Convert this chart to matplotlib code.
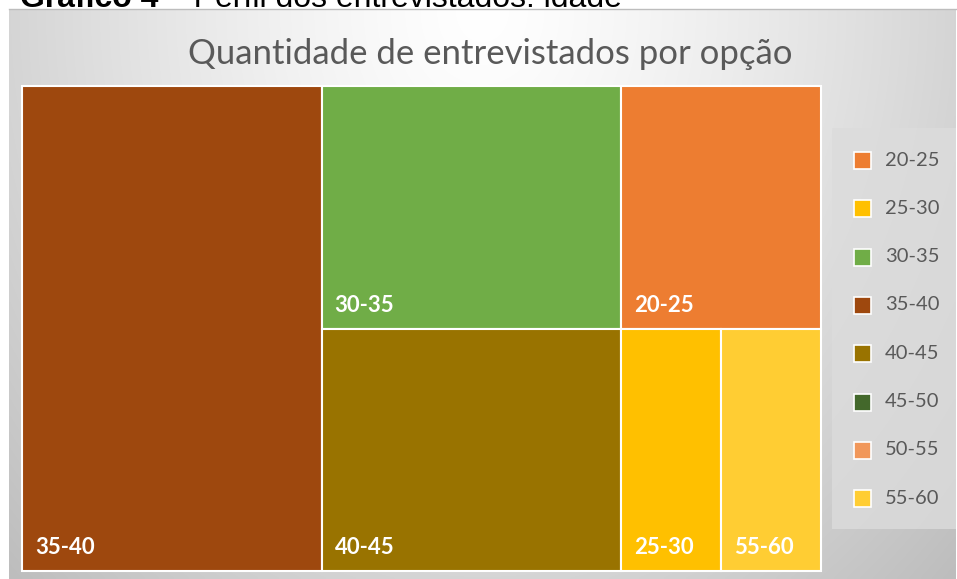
import numpy as np
import matplotlib.pyplot as plt
from matplotlib.patches import Rectangle

# dados do gráfico
faixas = ["20-25", "25-30", "30-35", "35-40", "40-45", "45-50", "50-55", "55-60"]
entrevistados = [2, 1, 3, 6, 3, 0, 0, 1]
cores = ["#ED7D31", "#FFC000", "#70AD47", "#9E480E",
         "#997300", "#43682B", "#F1975A", "#FFCD33"]

titulo = "Quantidade de entrevistados por opção"
legenda_fig = ("Gráfico 4", " – Perfil dos entrevistados: idade")

W, H = 957, 579


def pior_razao(linha, lado):
    s = sum(linha)
    return max(max(lado * lado * a / (s * s), (s * s) / (lado * lado * a)) for a in linha)


def squarify(valores, x, y, w, h):
    """Layout 'squarified' simples; devolve lista de (indice, x, y, w, h)."""
    itens = sorted([(v, i) for i, v in enumerate(valores) if v > 0], key=lambda t: (-t[0], t[1]))
    total = sum(v for v, _ in itens)
    areas = [(v * w * h / total, i) for v, i in itens]
    rects = []
    while areas:
        lado = min(w, h)
        linha = [areas[0]]
        k = 1
        while k < len(areas):
            nova = linha + [areas[k]]
            resto = len(areas) - len(nova)
            if pior_razao([a for a, _ in nova], lado) <= pior_razao([a for a, _ in linha], lado) or resto == 0:
                linha = nova
                k += 1
            else:
                break
        s = sum(a for a, _ in linha)
        if w >= h:
            # coluna à esquerda
            cw = s / h
            yy = y
            for a, i in linha:
                rh = a / cw
                rects.append((i, x, yy, cw, rh))
                yy += rh
            x += cw
            w -= cw
        else:
            # linha no topo
            rh = s / w
            xx = x
            for a, i in linha:
                rw = a / rh
                rects.append((i, xx, y, rw, rh))
                xx += rw
            y += rh
            h -= rh
        areas = areas[k:]
    return rects


fig = plt.figure(figsize=(W / 100, H / 100), dpi=100)
ax = fig.add_axes([0, 0, 1, 1])
ax.set_xlim(0, W)
ax.set_ylim(H, 0)
ax.axis("off")

# fundo em degradê da área do gráfico
gx = np.linspace(-1, 1, 300)
gy = np.linspace(0, 1, 200)
X, Y = np.meshgrid(gx, gy)
d = np.clip(np.sqrt(X ** 2 + Y ** 2) / np.sqrt(2), 0, 1)
cinza = (255 - 66 * d ** 1.3) / 255
img = np.dstack([cinza, cinza, cinza])
ax.imshow(img, extent=(9, 956, H, 9), aspect="auto", zorder=0, interpolation="bilinear")
ax.plot([9, 956], [9, 9], color="#bdbdbd", lw=1, zorder=1)

# legenda da figura (cortada no topo, como no original)
r = fig.canvas.get_renderer()
t1 = ax.text(20, 7, legenda_fig[0], fontsize=23, fontweight="bold",
             family="Liberation Sans", va="baseline", color="black", zorder=3)
bb = t1.get_window_extent(renderer=r)
ax.text(20 + bb.width, 7, legenda_fig[1], fontsize=23,
        family="Liberation Sans", va="baseline", color="black", zorder=3)

# título
ax.text(490, 54, titulo, fontsize=25, family="Lato",
        color="#595959", ha="center", va="center", zorder=3)

# treemap
for i, x, y, w, h in squarify(entrevistados, 22, 86, 799, 485):
    ax.add_patch(Rectangle((x, y), w, h, facecolor=cores[i], edgecolor="white",
                           lw=1.5, zorder=2))
    ax.text(x + 13, y + h - 17, faixas[i], fontsize=16, fontweight="bold",
            family="Lato", color="white", va="baseline", ha="left", zorder=3)

# caixa da legenda
ax.add_patch(Rectangle((832, 128), 124, 401, facecolor="#dcdcdc",
                       edgecolor="none", alpha=0.8, zorder=1))
for k, (faixa, cor) in enumerate(zip(faixas, cores)):
    yc = 160 + 48.3 * k
    ax.add_patch(Rectangle((854, yc - 8), 17, 17, facecolor=cor,
                           edgecolor="white", lw=1.2, zorder=2))
    ax.text(885, yc, faixa, fontsize=14.5, family="Lato", color="#595959",
            va="center", ha="left", zorder=3)

fig.savefig("out.png", dpi=100)
